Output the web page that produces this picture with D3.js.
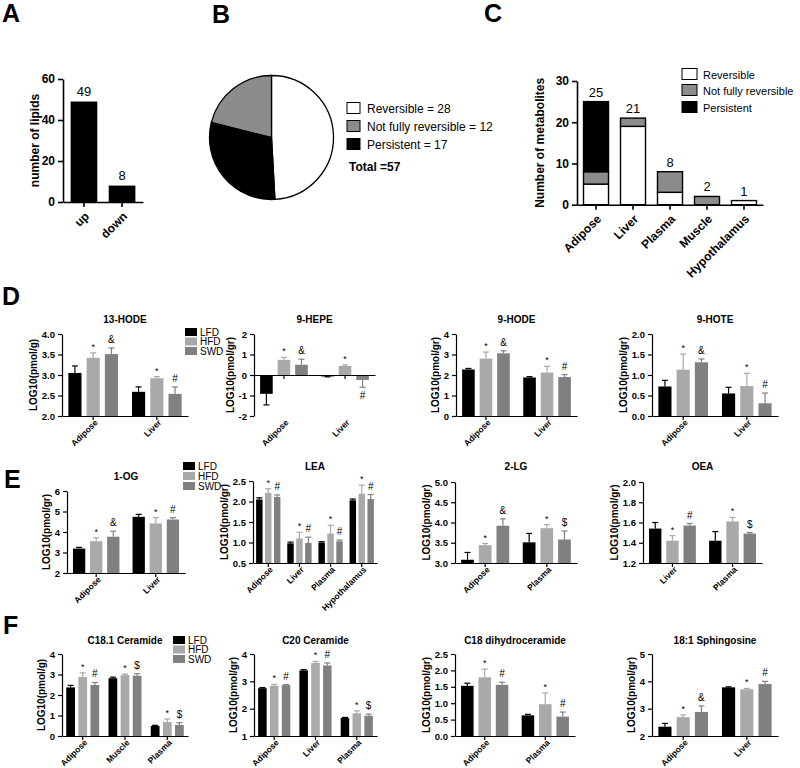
<!DOCTYPE html>
<html><head><meta charset="utf-8">
<script src="https://cdn.jsdelivr.net/npm/d3@7"></script>
<style>body{margin:0;background:#fff} svg{display:block}</style>
</head><body><svg id="c" width="800" height="768"></svg>
<script>
// ---------- DATA ----------
// Panel A
const lipidCategories = ["up", "down"];
const lipidCounts = [49, 8];
const lipidTicks = ["0", "20", "40", "60"];
// Panel B
const pieLabels = ["Reversible", "Not fully reversible", "Persistent"];
const pieValues = [28, 12, 17];
const pieTotal = 57;
const pieDrawOrder = ["Reversible", "Persistent", "Not fully reversible"];
// Panel C
const tissueCategories = ["Adipose", "Liver", "Plasma", "Muscle", "Hypothalamus"];
const reversibleCounts = [5, 19, 3, 0, 1];
const notFullyCounts = [3, 2, 5, 2, 0];
const persistentCounts = [17, 0, 0, 0, 0];
const tissueTotals = [25, 21, 8, 2, 1];
const metaboliteTicks = ["0", "10", "20", "30"];
// Diets
const diets = ["LFD", "HFD", "SWD"];

// D: 13-HODE
const hode13Groups = ["Adipose", "Liver"];
const hode13Mean = [[3.05, 3.42, 3.51], [2.59, 2.92, 2.54]];
const hode13Err = [[0.17, 0.12, 0.15], [0.12, 0.04, 0.17]];
const hode13Sig = [["", "*", "&"], ["", "*", "#"]];
const hode13Ticks = ["2.0", "2.5", "3.0", "3.5", "4.0"];
// D: 9-HEPE
const hepe9Groups = ["Adipose", "Liver"];
const hepe9Mean = [[-0.92, 0.74, 0.50], [-0.07, 0.44, -0.24]];
const hepe9Err = [[0.54, 0.12, 0.27], [0.02, 0.05, 0.36]];
const hepe9Sig = [["", "*", "&"], ["", "*", "#"]];
const hepe9Ticks = ["-2", "-1", "0", "1", "2"];
// D: 9-HODE
const hode9Groups = ["Adipose", "Liver"];
const hode9Mean = [[2.27, 2.80, 3.06], [1.88, 2.12, 1.90]];
const hode9Err = [[0.05, 0.32, 0.12], [0.04, 0.30, 0.12]];
const hode9Sig = [["", "*", "&"], ["", "*", "#"]];
const hode9Ticks = ["0", "1", "2", "3", "4"];
// D: 9-HOTE
const hote9Groups = ["Adipose", "Liver"];
const hote9Mean = [[0.72, 1.13, 1.31], [0.55, 0.73, 0.31]];
const hote9Err = [[0.15, 0.38, 0.08], [0.15, 0.31, 0.25]];
const hote9Sig = [["", "*", "&"], ["", "*", "#"]];
const hote9Ticks = ["0.0", "0.5", "1.0", "1.5", "2.0"];
// E: 1-OG
const og1Groups = ["Adipose", "Liver"];
const og1Mean = [[3.19, 3.55, 3.77], [4.74, 4.42, 4.61]];
const og1Err = [[0.06, 0.17, 0.27], [0.12, 0.28, 0.09]];
const og1Sig = [["", "*", "&"], ["", "*", "#"]];
const og1Ticks = ["2", "3", "4", "5", "6"];
// E: LEA
const leaGroups = ["Adipose", "Liver", "Plasma", "Hypothalamus"];
const leaMean = [[2.05, 2.21, 2.11], [0.98, 1.10, 0.99], [1.00, 1.22, 1.03], [2.03, 2.19, 2.06]];
const leaErr = [[0.04, 0.10, 0.05], [0.03, 0.15, 0.14], [0.02, 0.20, 0.03], [0.03, 0.21, 0.11]];
const leaSig = [["", "*", "#"], ["", "*", "#"], ["", "*", "#"], ["", "*", "#"]];
const leaTicks = ["0.5", "1.0", "1.5", "2.0", "2.5"];
// E: 2-LG
const lg2Groups = ["Adipose", "Plasma"];
const lg2Mean = [[3.08, 3.44, 3.92], [3.51, 3.86, 3.58]];
const lg2Err = [[0.18, 0.04, 0.17], [0.22, 0.09, 0.21]];
const lg2Sig = [["", "*", "&"], ["", "*", "$"]];
const lg2Ticks = ["3.0", "3.5", "4.0", "4.5", "5.0"];
// E: OEA
const oeaGroups = ["Liver", "Plasma"];
const oeaMean = [[1.54, 1.42, 1.57], [1.42, 1.61, 1.49]];
const oeaErr = [[0.06, 0.05, 0.02], [0.09, 0.04, 0.01]];
const oeaSig = [["", "*", "#"], ["", "*", "$"]];
const oeaTicks = ["1.2", "1.4", "1.6", "1.8", "2.0"];
// F: C18.1 Ceramide
const cer181Groups = ["Adipose", "Muscle", "Plasma"];
const cer181Mean = [[2.37, 2.88, 2.49], [2.82, 2.97, 2.94], [0.49, 0.68, 0.54]];
const cer181Err = [[0.10, 0.20, 0.12], [0.05, 0.05, 0.10], [0.03, 0.15, 0.11]];
const cer181Sig = [["", "*", "#"], ["", "*", "$"], ["", "*", "$"]];
const cer181Ticks = ["0", "1", "2", "3", "4"];
// F: C20 Ceramide
const cer20Groups = ["Adipose", "Liver", "Plasma"];
const cer20Mean = [[2.75, 2.84, 2.86], [3.40, 3.67, 3.58], [1.66, 1.83, 1.74]];
const cer20Err = [[0.02, 0.05, 0.02], [0.03, 0.06, 0.09], [0.02, 0.09, 0.06]];
const cer20Sig = [["", "*", "#"], ["", "*", "#"], ["", "*", "$"]];
const cer20Ticks = ["1", "2", "3", "4"];
// F: C18 dihydroceramide
const dhc18Groups = ["Adipose", "Plasma"];
const dhc18Mean = [[1.53, 1.79, 1.56], [0.63, 0.97, 0.59]];
const dhc18Err = [[0.08, 0.25, 0.08], [0.03, 0.34, 0.14]];
const dhc18Sig = [["", "*", "#"], ["", "*", "#"]];
const dhc18Ticks = ["0.0", "0.5", "1.0", "1.5", "2.0", "2.5"];
// F: 18:1 Sphingosine
const sph181Groups = ["Adipose", "Liver"];
const sph181Mean = [[2.34, 2.69, 2.88], [3.78, 3.71, 3.90]];
const sph181Err = [[0.12, 0.08, 0.22], [0.02, 0.03, 0.10]];
const sph181Sig = [["", "*", "&"], ["", "*", "#"]];
const sph181Ticks = ["2", "3", "4", "5"];

// ---------- STYLE ----------
const FONT = "'Liberation Sans', Arial, Helvetica, sans-serif";
const dietColors = ["#000000", "#a9a9a9", "#808080"];
const statusColors = {"Reversible": "#ffffff", "Not fully reversible": "#8c8c8c", "Persistent": "#000000"};

const svg = d3.select("#c").attr("font-family", FONT);
svg.append("rect").attr("width", 800).attr("height", 768).attr("fill", "#fff");

function txt(x, y, s, size, weight, anchor) {
  return svg.append("text").attr("x", x).attr("y", y).text(s)
    .attr("font-size", size).attr("font-weight", weight || "normal")
    .attr("text-anchor", anchor || "start").attr("fill", "#000");
}

// Panel letters
txt(2, 22, "A", 25, "bold");
txt(212, 23, "B", 25, "bold");
txt(484, 22, "C", 25, "bold");
txt(2, 305, "D", 25, "bold");
txt(4, 488, "E", 25, "bold");
txt(3, 634, "F", 25, "bold");

// ---------- PANEL A ----------
(function () {
  const L = 63, R = 143, T = 79, B = 202;
  const y = d3.scaleLinear().domain([0, 60]).range([B, T]);
  const x = d3.scaleBand().domain(lipidCategories).range([L, R]).paddingInner(0.3).paddingOuter(0.2);
  const g = svg.append("g");
  g.selectAll("rect.b").data(lipidCategories).join("rect")
    .attr("x", d => x(d)).attr("width", x.bandwidth())
    .attr("y", (d, i) => y(lipidCounts[i])).attr("height", (d, i) => B - y(lipidCounts[i]))
    .attr("fill", "#000");
  g.selectAll("text.v").data(lipidCategories).join("text")
    .attr("x", d => x(d) + x.bandwidth() / 2).attr("y", (d, i) => y(lipidCounts[i]) - 6)
    .attr("text-anchor", "middle").attr("font-size", 13).text((d, i) => lipidCounts[i]);
  const ya = d3.axisLeft(y).tickValues(lipidTicks.map(Number)).tickFormat((d, i) => lipidTicks[i]).tickSize(5).tickSizeOuter(0);
  const yg = g.append("g").attr("transform", `translate(${L},0)`).call(ya);
  const xa = d3.axisBottom(x).tickSize(5).tickSizeOuter(0);
  const xg = g.append("g").attr("transform", `translate(0,${B})`).call(xa);
  [yg, xg].forEach(a => { a.attr("font-family", FONT); a.selectAll("path,line").attr("stroke-width", 1.6); a.selectAll("text").attr("font-size", 12).attr("font-weight", "bold"); });
  xg.selectAll("text").attr("x", 0).attr("y", 0).attr("dy", "0.35em").attr("text-anchor", "end")
    .attr("transform", "translate(3,12) rotate(-45)");
  txt(0, 0, "number of lipids", 12, "bold", "middle").attr("transform", `translate(39,${(T + B) / 2}) rotate(-90)`);
})();

// ---------- PANEL B ----------
(function () {
  const cx = 271.5, cy = 137.5, r = 62;
  const vals = pieDrawOrder.map(k => pieValues[pieLabels.indexOf(k)]);
  const arcs = d3.pie().sort(null).value(d => d.v)(pieDrawOrder.map((k, i) => ({k, v: vals[i]})));
  const arc = d3.arc().innerRadius(0).outerRadius(r);
  svg.append("g").attr("transform", `translate(${cx},${cy})`)
    .selectAll("path").data(arcs).join("path")
    .attr("d", arc).attr("fill", d => statusColors[d.data.k])
    .attr("stroke", "#000").attr("stroke-width", 1.3);
  const rows = [108, 126, 144];
  pieLabels.forEach((k, i) => {
    svg.append("rect").attr("x", 347).attr("y", rows[i] - 5.5).attr("width", 13).attr("height", 11)
      .attr("fill", statusColors[k]).attr("stroke", "#000").attr("stroke-width", 1);
    txt(367, rows[i] + 4.5, `${k} = ${pieValues[i]}`, 12);
  });
  txt(349, 171, `Total =${pieTotal}`, 12, "bold");
})();

// ---------- PANEL C ----------
(function () {
  const L = 577, R = 763, T = 81, B = 204.7;
  const y = d3.scaleLinear().domain([0, 30]).range([B, T]);
  const x = d3.scaleBand().domain(tissueCategories).range([L, R]).paddingInner(0.324).paddingOuter(0.176);
  const keys = ["Reversible", "Not fully reversible", "Persistent"];
  const table = tissueCategories.map((t, i) => ({tissue: t, "Reversible": reversibleCounts[i], "Not fully reversible": notFullyCounts[i], "Persistent": persistentCounts[i]}));
  const series = d3.stack().keys(keys)(table);
  const g = svg.append("g");
  series.forEach(s => {
    g.selectAll(null).data(s.filter(d => d[1] - d[0] > 0)).join("rect")
      .attr("x", d => x(d.data.tissue)).attr("width", x.bandwidth())
      .attr("y", d => y(d[1])).attr("height", d => y(d[0]) - y(d[1]))
      .attr("fill", statusColors[s.key]).attr("stroke", "#000").attr("stroke-width", 1.4);
  });
  g.selectAll("text.t").data(tissueCategories).join("text")
    .attr("x", d => x(d) + x.bandwidth() / 2).attr("y", (d, i) => y(tissueTotals[i]) - 5)
    .attr("text-anchor", "middle").attr("font-size", 13).text((d, i) => tissueTotals[i]);
  const ya = d3.axisLeft(y).tickValues(metaboliteTicks.map(Number)).tickFormat((d, i) => metaboliteTicks[i]).tickSize(5).tickSizeOuter(0);
  const yg = g.append("g").attr("transform", `translate(${L},0)`).call(ya);
  const xa = d3.axisBottom(x).tickSize(5).tickSizeOuter(0);
  const xg = g.append("g").attr("transform", `translate(0,${B})`).call(xa);
  [yg, xg].forEach(a => { a.attr("font-family", FONT); a.selectAll("path,line").attr("stroke-width", 1.6); a.selectAll("text").attr("font-size", 12).attr("font-weight", "bold"); });
  xg.selectAll("text").attr("x", 0).attr("y", 0).attr("dy", "0.35em").attr("text-anchor", "end")
    .attr("transform", "translate(3,12) rotate(-45)");
  txt(0, 0, "Number of metabolites", 12, "bold", "middle").attr("transform", `translate(544,${(T + B) / 2}) rotate(-90)`);
  const rows = [74, 90, 107];
  keys.forEach((k, i) => {
    svg.append("rect").attr("x", 682).attr("y", rows[i] - 5.5).attr("width", 15).attr("height", 11)
      .attr("fill", statusColors[k]).attr("stroke", "#000").attr("stroke-width", 1);
    txt(703, rows[i] + 4.5, k, 11);
  });
})();

// ---------- GROUPED BAR CHARTS ----------
function barChart(c) {
  const tv = c.ticks.map(Number);
  const y = d3.scaleLinear().domain(d3.extent(tv)).range([c.bottom, c.top]);
  const base = y.domain()[0] < 0 ? 0 : y.domain()[0];
  const x0 = d3.scaleBand().domain(c.groups).range([c.left, c.right]).paddingInner(0.22).paddingOuter(0.1);
  const x1 = d3.scaleBand().domain(diets).range([0, x0.bandwidth()]).paddingInner(0.28);
  const g = svg.append("g");
  c.groups.forEach((grp, gi) => {
    diets.forEach((dt, di) => {
      const m = c.means[gi][di], e = c.errs[gi][di];
      const bx = x0(grp) + x1(dt), bw = x1.bandwidth(), cx = bx + bw / 2;
      g.append("rect").attr("x", bx).attr("width", bw)
        .attr("y", y(Math.max(m, base))).attr("height", Math.abs(y(m) - y(base)))
        .attr("fill", dietColors[di]);
      const tip = m >= base ? m + e : m - e;
      g.append("line").attr("x1", cx).attr("x2", cx).attr("y1", y(m)).attr("y2", y(tip))
        .attr("stroke", dietColors[di]).attr("stroke-width", 1.2);
      g.append("line").attr("x1", cx - 3).attr("x2", cx + 3).attr("y1", y(tip)).attr("y2", y(tip))
        .attr("stroke", dietColors[di]).attr("stroke-width", 1.2);
      const s = c.sigs[gi][di];
      if (s) {
        const up = m >= base;
        const sy = up ? y(tip) - (s === "*" ? 3 : 5) : y(tip) + 12;
        g.append("text").attr("x", cx).attr("y", sy).attr("text-anchor", "middle")
          .attr("font-size", s === "*" ? 9 : 10).text(s);
      }
    });
  });
  const ya = d3.axisLeft(y).tickValues(tv).tickFormat((d, i) => c.ticks[i]).tickSize(4).tickSizeOuter(0);
  const yg = g.append("g").attr("transform", `translate(${c.left},0)`).call(ya);
  const xa = d3.axisBottom(x0).tickSize(4).tickSizeOuter(0);
  const xg = g.append("g").attr("transform", `translate(0,${y(base)})`).call(xa);
  const off = c.bottom - y(base);
  [yg, xg].forEach(a => { a.attr("font-family", FONT); a.selectAll("path,line").attr("stroke-width", 1.2); a.selectAll("text").attr("font-size", 9.5).attr("font-weight", "bold"); });
  xg.selectAll("text").attr("font-size", 8.5).attr("x", 0).attr("y", 0).attr("dy", "0.35em").attr("text-anchor", "end")
    .attr("transform", `translate(3,${off + 5}) rotate(-45)`);
  let mw = 0;
  yg.selectAll("text").each(function () { mw = Math.max(mw, this.getComputedTextLength()); });
  txt(0, 0, c.ylabel, 10, "bold", "middle")
    .attr("transform", `translate(${c.left - mw - 12},${(c.top + c.bottom) / 2}) rotate(-90)`);
  txt((c.left + c.right) / 2, c.titleY, c.title, 10, "bold", "middle");
}

function dietLegend(x, rows) {
  diets.forEach((d, i) => {
    svg.append("rect").attr("x", x).attr("y", rows[i] - 4).attr("width", 12).attr("height", 8).attr("fill", dietColors[i]);
    txt(x + 15, rows[i] + 3.5, d, 10);
  });
}

// Row D
barChart({left: 62, right: 188, top: 334, bottom: 416, titleY: 323, title: "13-HODE", ylabel: "LOG10(pmol/g)", groups: hode13Groups, means: hode13Mean, errs: hode13Err, sigs: hode13Sig, ticks: hode13Ticks});
barChart({left: 254, right: 375, top: 334, bottom: 416, titleY: 323, title: "9-HEPE", ylabel: "LOG10(pmol/gr)", groups: hepe9Groups, means: hepe9Mean, errs: hepe9Err, sigs: hepe9Sig, ticks: hepe9Ticks});
barChart({left: 456, right: 577, top: 334, bottom: 416, titleY: 323, title: "9-HODE", ylabel: "LOG10(pmol/gr)", groups: hode9Groups, means: hode9Mean, errs: hode9Err, sigs: hode9Sig, ticks: hode9Ticks});
barChart({left: 652, right: 778, top: 334, bottom: 416, titleY: 323, title: "9-HOTE", ylabel: "LOG10(pmol/gr)", groups: hote9Groups, means: hote9Mean, errs: hote9Err, sigs: hote9Sig, ticks: hote9Ticks});
dietLegend(185, [332, 341.5, 351]);

// Row E
barChart({left: 67, right: 185, top: 491, bottom: 573, titleY: 480, title: "1-OG", ylabel: "LOG10(pmol/gr)", groups: og1Groups, means: og1Mean, errs: og1Err, sigs: og1Sig, ticks: og1Ticks});
barChart({left: 253, right: 377, top: 481, bottom: 563, titleY: 470, title: "LEA", ylabel: "LOG10(pmol/gr)", groups: leaGroups, means: leaMean, errs: leaErr, sigs: leaSig, ticks: leaTicks});
barChart({left: 455, right: 577, top: 482, bottom: 563, titleY: 470, title: "2-LG", ylabel: "LOG10(pmol/gr)", groups: lg2Groups, means: lg2Mean, errs: lg2Err, sigs: lg2Sig, ticks: lg2Ticks});
barChart({left: 643, right: 762, top: 482, bottom: 563, titleY: 470, title: "OEA", ylabel: "LOG10(pmol/gr)", groups: oeaGroups, means: oeaMean, errs: oeaErr, sigs: oeaSig, ticks: oeaTicks});
dietLegend(183, [466, 476, 486]);

// Row F
barChart({left: 62, right: 188, top: 654, bottom: 736, titleY: 644, title: "C18.1 Ceramide", ylabel: "LOG10(pmol/g)", groups: cer181Groups, means: cer181Mean, errs: cer181Err, sigs: cer181Sig, ticks: cer181Ticks});
barChart({left: 254, right: 377, top: 654, bottom: 736, titleY: 644, title: "C20 Ceramide", ylabel: "LOG10(pmol/gr)", groups: cer20Groups, means: cer20Mean, errs: cer20Err, sigs: cer20Sig, ticks: cer20Ticks});
barChart({left: 455, right: 575, top: 654, bottom: 736, titleY: 644, title: "C18 dihydroceramide", ylabel: "LOG10(pmol/gr)", groups: dhc18Groups, means: dhc18Mean, errs: dhc18Err, sigs: dhc18Sig, ticks: dhc18Ticks});
barChart({left: 652, right: 778, top: 654, bottom: 736, titleY: 644, title: "18:1 Sphingosine", ylabel: "LOG10(pmol/gr)", groups: sph181Groups, means: sph181Mean, errs: sph181Err, sigs: sph181Sig, ticks: sph181Ticks});
dietLegend(173, [640, 649.5, 659]);
</script></body></html>
